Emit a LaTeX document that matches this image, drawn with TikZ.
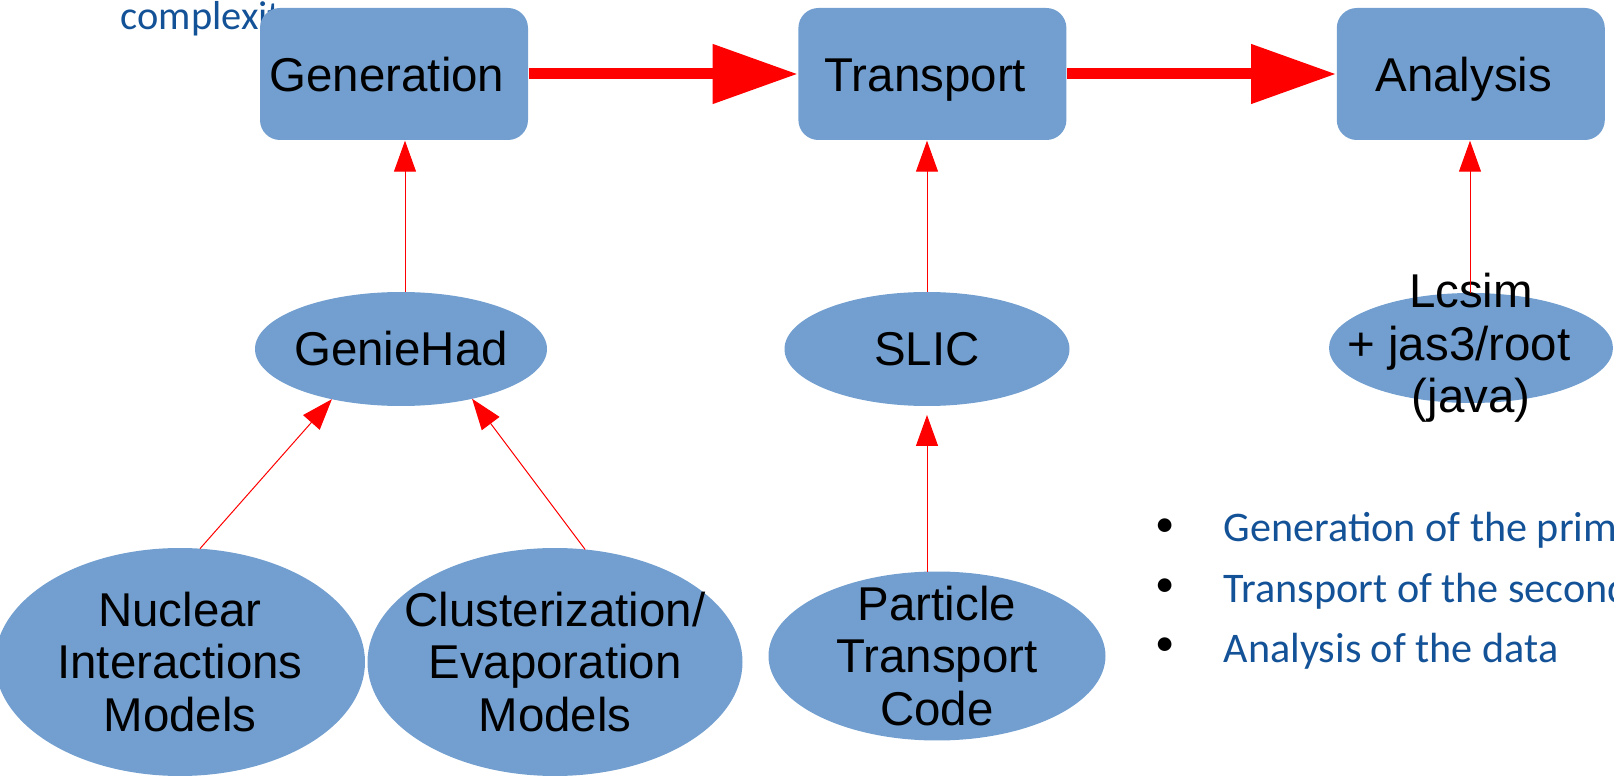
\documentclass[tikz,border=0pt]{standalone}
\usepackage{fontspec}
\setmainfont{Liberation Sans}
\newfontfamily\slidefont{Carlito}
\usepackage{xcolor}
\usepackage{tikz}
\usetikzlibrary{positioning, shapes.geometric, arrows.meta}
\definecolor{boxblue}{HTML}{729FCF}
\definecolor{slideblue}{RGB}{20,82,152}

\begin{document}
\begin{tikzpicture}[
    x=0.1mm, y=-0.1mm, node distance=26.9mm,
    font=\fontsize{13.5}{15}\selectfont,
    stage/.style={fill=boxblue, rounded corners=2mm, minimum width=26.8mm, minimum height=13.2mm, inner sep=0pt,
      text height=9.7pt, text depth=0pt, execute at end node=\hspace{1.4mm}},
    tool/.style={ellipse, fill=boxblue, inner sep=0pt, outer sep=0pt},
    txt/.style={align=center, inner sep=0pt},
    slide/.style={font=\slidefont\fontsize{12}{14}\selectfont, anchor=base west, inner sep=0pt},
    flow/.style={-{Triangle[length=8.5mm, width=5.7mm]}, red, line width=1.1mm},
    feed/.style={-{Triangle[length=3.1mm, width=2.2mm]}, red, line width=0.1mm},
  ]
    \useasboundingbox (0,0) rectangle (1614,779);
    \clip (0,0) rectangle (1614,779);
    \node[slide, slideblue, font=\slidefont\fontsize{11.5}{13}\selectfont] (title) at (120,30) {complexity};
    % chain of stages
    \node[stage] (generation) at (394,74) {Generation};
    \node[stage, right=of generation] (transport) {Transport};
    \node[stage, right=of transport] (analysis) {Analysis};
    % tools
    \node[tool, minimum width=29.2mm, minimum height=11.4mm, label={[txt]center:GenieHad}] (geniehad) at (401,349) {};
    \node[tool, minimum width=28.5mm, minimum height=11.4mm, label={[txt]center:SLIC}] (slic) at (927,349) {};
    \node[tool, minimum width=28.4mm, minimum height=11.0mm, label={[txt]center:Lcsim\\+ jas3/root\rule{2.4mm}{0pt}\\(java)}] (lcsim) at (1471,348) {};
    \node[tool, minimum width=37.0mm, minimum height=22.8mm, label={[txt]center:Nuclear\\Interactions\\Models}] (nuclear) at (180,662) {};
    \node[tool, minimum width=37.5mm, minimum height=22.8mm, label={[txt]center:Clusterization/\\Evaporation\\Models}] (cluster) at (555,662) {};
    \node[tool, minimum width=33.7mm, minimum height=16.9mm, label={[txt]center:Particle\\Transport\\Code}] (particle) at (937,656) {};
    \draw[flow] (generation) -- (transport);
    \draw[flow] (transport) -- (analysis);
    \draw[feed] (geniehad.north -| 405,0) -- (generation.south -| 405,0);
    \draw[feed] (slic.north) -- (slic.north |- transport.south);
    \draw[feed] (lcsim.north -| 1470,0) -- (analysis.south -| 1470,0);
    \draw[feed] (nuclear.80) -- (geniehad.216);
    \draw[feed] (cluster.75) -- (geniehad.325);
    \draw[feed, shorten >=0.9mm] (particle.north -| slic.south) -- (slic.south);
    % bullet list
    \node[slide, font=\slidefont\fontsize{11}{13}\selectfont] (dot1) at (1155,536) {\textbullet};
    \node[slide, font=\slidefont\fontsize{11}{13}\selectfont] (dot2) at (1155,596) {\textbullet};
    \node[slide, font=\slidefont\fontsize{11}{13}\selectfont] (dot3) at (1155,656) {\textbullet};
    \node[slide, slideblue] (item1) at (1223,542) {Generation of the primary};
    \node[slide, slideblue] (item2) at (1223,602) {Transport of the secondary};
    \node[slide, slideblue] (item3) at (1223,662) {Analysis of the data};
  \end{tikzpicture}
\end{document}
